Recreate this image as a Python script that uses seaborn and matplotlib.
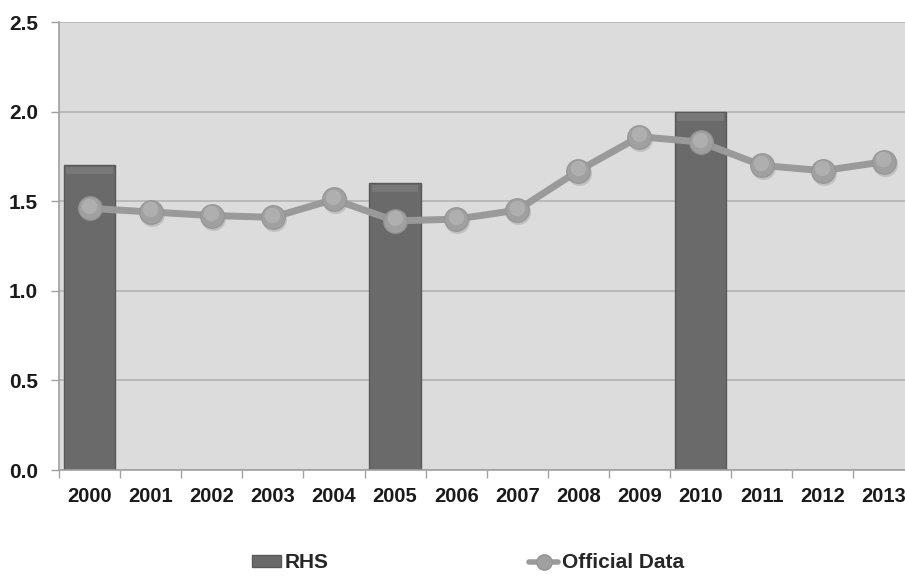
import numpy as np
import pandas as pd
import matplotlib
matplotlib.use("Agg")
import matplotlib.pyplot as plt
import matplotlib.transforms as mtransforms
from matplotlib.patches import Patch
from matplotlib.lines import Line2D
import seaborn as sns

years = ["2000", "2001", "2002", "2003", "2004", "2005", "2006",
         "2007", "2008", "2009", "2010", "2011", "2012", "2013"]
rhs = [1.70, np.nan, np.nan, np.nan, np.nan, 1.60, np.nan,
       np.nan, np.nan, np.nan, 2.00, np.nan, np.nan, np.nan]
official = [1.46, 1.44, 1.42, 1.41, 1.51, 1.39, 1.40,
            1.45, 1.67, 1.86, 1.83, 1.70, 1.67, 1.72]
y_ticks = [0.0, 0.5, 1.0, 1.5, 2.0, 2.5]

sns.set_theme(style="white")
plt.rcParams["font.family"] = ["Liberation Sans", "DejaVu Sans"]
plt.rcParams["font.weight"] = "bold"

df = pd.DataFrame({"year": years, "rhs": rhs, "official": official,
                   "pos": np.arange(len(years))})

fig = plt.figure(figsize=(9.05, 5.77), dpi=100)
ax = fig.add_axes([59 / 905, 1 - 470 / 577, 1 - 59 / 905, (470 - 22) / 577])
ax.set_facecolor("#dcdcdc")

bar_color = "#6a6a6a"
line_color = "#9a9a9a"
marker_color = "#a0a0a0"

sns.barplot(data=df, x="year", y="rhs", order=years, color=bar_color,
            saturation=1, width=0.84, edgecolor="#585858", linewidth=1.0,
            ax=ax, zorder=2)

# lighter bevel along the top of each bar
for p in ax.patches:
    h = p.get_height()
    if np.isfinite(h) and h > 0:
        ax.add_patch(plt.Rectangle((p.get_x() + 0.04, h - 0.05), p.get_width() - 0.08, 0.04,
                                   facecolor="#787878", edgecolor="none", zorder=2.1))

# soft shadow under the line markers
shadow = mtransforms.offset_copy(ax.transData, fig=fig, x=1.0, y=-2.0, units="dots")
ax.plot(df["pos"], df["official"], linestyle="none", marker="o", markersize=18,
        markerfacecolor="#707070", markeredgecolor="none", alpha=0.25,
        transform=shadow, zorder=2.5)

sns.lineplot(data=df, x="pos", y="official", color=line_color, linewidth=5,
             marker="o", markersize=17, markerfacecolor=marker_color,
             markeredgecolor="#949494", markeredgewidth=0.8, ax=ax, zorder=3)

# highlight on the upper part of each marker
hl = mtransforms.offset_copy(ax.transData, fig=fig, x=-0.5, y=2.5, units="dots")
ax.plot(df["pos"], df["official"], linestyle="none", marker="o", markersize=11,
        markerfacecolor="#b4b4b4", markeredgecolor="none", alpha=0.8,
        transform=hl, zorder=3.5)

ax.set_yticks(y_ticks)
ax.set_yticklabels([f"{v:.1f}" for v in y_ticks], fontsize=15, fontweight="bold", color="#1a1a1a")
ax.set_xticks(range(len(years)))
ax.set_xticklabels(years, fontsize=14.5, fontweight="bold", color="#1a1a1a")
ax.set_xticks(np.arange(-0.5, len(years) - 1), minor=True)
ax.set_xlabel("")
ax.set_ylabel("")
ax.set_ylim(0, 2.5)
ax.set_xlim(-0.5, -0.5 + 846 / 61.1)

# keep the last year label inside the canvas edge
last = ax.get_xticklabels()[-1]
last.set_transform(last.get_transform() + mtransforms.ScaledTranslation(-3 / 100, 0, fig.dpi_scale_trans))

ax.yaxis.grid(True, color="#b2b2b2", linewidth=1.2, zorder=0)
ax.set_axisbelow(True)
ax.tick_params(axis="y", which="major", length=6, width=1.0, color="#a0a0a0", pad=9, left=True)
ax.tick_params(axis="x", which="major", length=0, pad=12)
ax.tick_params(axis="x", which="minor", length=6, width=1.0, color="#a0a0a0", bottom=True)

for side in ["top", "right"]:
    ax.spines[side].set_visible(False)
for side in ["left", "bottom"]:
    ax.spines[side].set_color("#a0a0a0")
    ax.spines[side].set_linewidth(1.2)

handles = [
    Patch(facecolor=bar_color, edgecolor="#585858", linewidth=1.0),
    Line2D([0], [0], color=line_color, linewidth=4, marker="o", markersize=11,
           markerfacecolor=marker_color, markeredgecolor="#949494"),
]
fig.legend(handles, ["RHS", "Official Data"], loc="center", bbox_to_anchor=(468 / 905, 1 - 563 / 577),
           ncol=2, frameon=False, handlelength=1.4, handleheight=0.5,
           handletextpad=0.2, columnspacing=9.6, prop={"weight": "bold", "size": 15})

fig.savefig("out.png", dpi=100, facecolor="white")
